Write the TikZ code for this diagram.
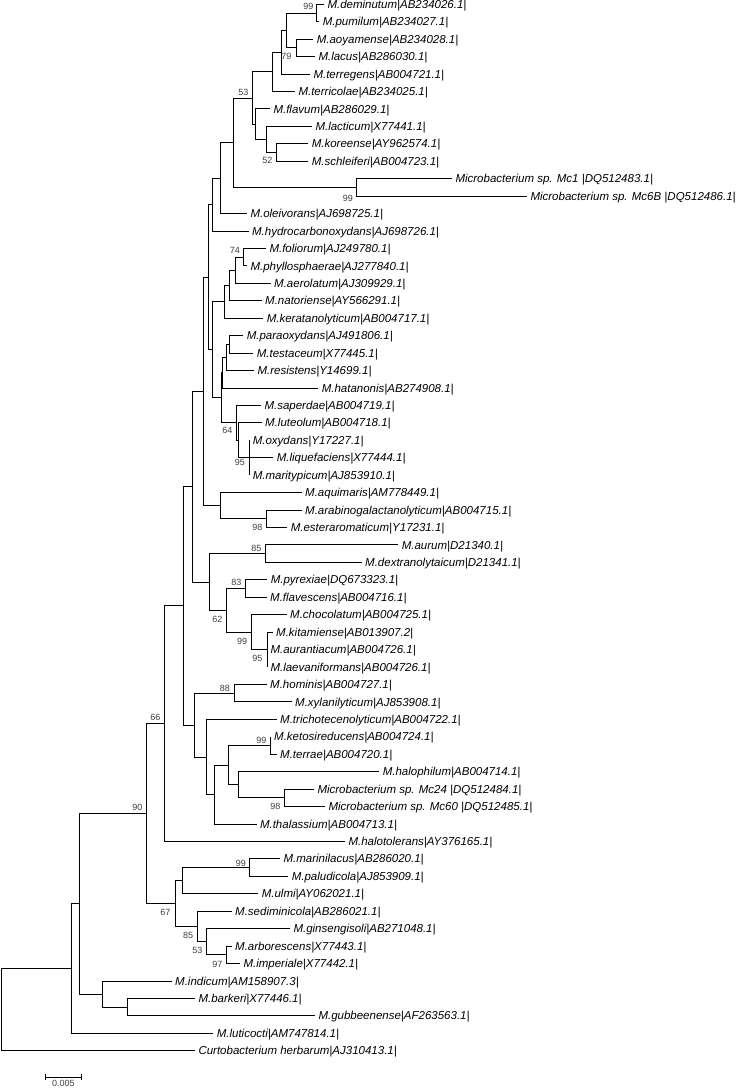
\documentclass[tikz,border=0pt]{standalone}
\usepackage{fontspec}
\setmainfont{Liberation Sans}
\newcommand\lfy[1]{4.3+17.44*(#1-1)}
\begin{document}
\begin{tikzpicture}[x=1pt,y=-1pt,
  branch/.style={draw=black,line width=0.9pt},
  leaflab/.style={anchor=base west,inner sep=0pt,xshift=3.3pt,yshift=-4.1pt,
    font=\fontsize{11.5}{13}\selectfont\itshape},
  bs/.style={anchor=east,inner sep=0pt,font=\fontsize{9}{10}\selectfont,text=black!75}]
\useasboundingbox (0,0) rectangle (740,1088);
\newcommand\myleaf[3]{\coordinate (e#1) at (#2,{\lfy{#1}}); \node[leaflab] (t#1) at (e#1) {#3};}
\newcommand\brn[2]{\draw[branch] (#1) |- (#2);}
% leaves
\myleaf{1}{324}{M.deminutum|AB234026.1|}
\myleaf{2}{319.3}{M.pumilum|AB234027.1|}
\myleaf{3}{313.3}{M.aoyamense|AB234028.1|}
\myleaf{4}{315}{M.lacus|AB286030.1|}
\myleaf{5}{310}{M.terregens|AB004721.1|}
\myleaf{6}{295}{M.terricolae|AB234025.1|}
\myleaf{7}{270}{M.flavum|AB286029.1|}
\myleaf{8}{312}{M.lacticum|X77441.1|}
\myleaf{9}{308.3}{M.koreense|AY962574.1|}
\myleaf{10}{308.3}{M.schleiferi|AB004723.1|}
\myleaf{11}{452}{Microbacterium sp. Mc1 |DQ512483.1|}
\myleaf{12}{527}{Microbacterium sp. Mc6B |DQ512486.1|}
\myleaf{13}{247}{M.oleivorans|AJ698725.1|}
\myleaf{14}{248.6}{M.hydrocarbonoxydans|AJ698726.1|}
\myleaf{15}{266}{M.foliorum|AJ249780.1|}
\myleaf{16}{247}{M.phyllosphaerae|AJ277840.1|}
\myleaf{17}{270.7}{M.aerolatum|AJ309929.1|}
\myleaf{18}{261.7}{M.natoriense|AY566291.1|}
\myleaf{19}{263.3}{M.keratanolyticum|AB004717.1|}
\myleaf{20}{243.3}{M.paraoxydans|AJ491806.1|}
\myleaf{21}{253.3}{M.testaceum|X77445.1|}
\myleaf{22}{254}{M.resistens|Y14699.1|}
\myleaf{23}{318.3}{M.hatanonis|AB274908.1|}
\myleaf{24}{261}{M.saperdae|AB004719.1|}
\myleaf{25}{261.7}{M.luteolum|AB004718.1|}
\myleaf{26}{249.3}{M.oxydans|Y17227.1|}
\myleaf{27}{273.3}{M.liquefaciens|X77444.1|}
\myleaf{28}{249.3}{M.maritypicum|AJ853910.1|}
\myleaf{29}{301.7}{M.aquimaris|AM778449.1|}
\myleaf{30}{301.7}{M.arabinogalactanolyticum|AB004715.1|}
\myleaf{31}{287.3}{M.esteraromaticum|Y17231.1|}
\myleaf{32}{398.3}{M.aurum|D21340.1|}
\myleaf{33}{361.7}{M.dextranolytaicum|D21341.1|}
\myleaf{34}{267.3}{M.pyrexiae|DQ673323.1|}
\myleaf{35}{266.7}{M.flavescens|AB004716.1|}
\myleaf{36}{286.7}{M.chocolatum|AB004725.1|}
\myleaf{37}{272.7}{M.kitamiense|AB013907.2|}
\myleaf{38}{267}{M.aurantiacum|AB004726.1|}
\myleaf{39}{267}{M.laevaniformans|AB004726.1|}
\myleaf{40}{266.7}{M.hominis|AB004727.1|}
\myleaf{41}{291.7}{M.xylanilyticum|AJ853908.1|}
\myleaf{42}{276.7}{M.trichotecenolyticum|AB004722.1|}
\myleaf{43}{270.7}{M.ketosireducens|AB004724.1|}
\myleaf{44}{276.7}{M.terrae|AB004720.1|}
\myleaf{45}{379.3}{M.halophilum|AB004714.1|}
\myleaf{46}{314}{Microbacterium sp. Mc24 |DQ512484.1|}
\myleaf{47}{325}{Microbacterium sp. Mc60 |DQ512485.1|}
\myleaf{48}{256.5}{M.thalassium|AB004713.1|}
\myleaf{49}{345}{M.halotolerans|AY376165.1|}
\myleaf{50}{280}{M.marinilacus|AB286020.1|}
\myleaf{51}{288.3}{M.paludicola|AJ853909.1|}
\myleaf{52}{258.3}{M.ulmi|AY062021.1|}
\myleaf{53}{231.7}{M.sediminicola|AB286021.1|}
\myleaf{54}{290}{M.ginsengisoli|AB271048.1|}
\myleaf{55}{231.7}{M.arborescens|X77443.1|}
\myleaf{56}{240}{M.imperiale|X77442.1|}
\myleaf{57}{171.7}{M.indicum|AM158907.3|}
\myleaf{58}{195}{M.barkeri|X77446.1|}
\myleaf{59}{315}{M.gubbeenense|AF263563.1|}
\myleaf{60}{213.3}{M.luticocti|AM747814.1|}
\myleaf{61}{195}{Curtobacterium herbarum|AJ310413.1|}
% internal nodes
\coordinate (Ndp) at (316.7,{\lfy{1.5}});
\coordinate (Nal) at (296,{\lfy{3.5}});
\coordinate (Ndpal) at (286,{\lfy{2.5}});
\coordinate (Ndpalt) at (281.3,{\lfy{3.75}});
\coordinate (Ndpaltt) at (272,{\lfy{4.875}});
\coordinate (Nks) at (276.7,{\lfy{9.5}});
\coordinate (Nlks) at (266.3,{\lfy{8.75}});
\coordinate (Nflks) at (255.5,{\lfy{7.875}});
\coordinate (N53) at (252,{\lfy{6.375}});
\coordinate (Nmc) at (356.8,{\lfy{11.5}});
\coordinate (Ntop) at (233.5,{\lfy{8.9375}});
\coordinate (Ntop2) at (220,{\lfy{10.96875}});
\coordinate (Ntop3) at (212.5,{\lfy{12.484375}});
\coordinate (Nfp) at (243.3,{\lfy{15.5}});
\coordinate (Nfpa) at (235,{\lfy{16.25}});
\coordinate (Nfpan) at (229,{\lfy{17.125}});
\coordinate (Nfpank) at (224.3,{\lfy{18.0625}});
\coordinate (Npt) at (229.3,{\lfy{20.5}});
\coordinate (Nptr) at (226,{\lfy{21.25}});
\coordinate (Nptrh) at (222.7,{\lfy{22.125}});
\coordinate (Nolm) at (249.3,{\lfy{27}});
\coordinate (Nlo) at (238.2,{\lfy{26}});
\coordinate (Ns) at (236.7,{\lfy{25}});
\coordinate (Nphs) at (221.5,{\lfy{23.5625}});
\coordinate (NB) at (212.3,{\lfy{20.8125}});
\coordinate (NA) at (208.7,{\lfy{16.6484375}});
\coordinate (Nae) at (266.7,{\lfy{30.5}});
\coordinate (Naae) at (220.5,{\lfy{29.75}});
\coordinate (NC) at (203,{\lfy{23.19921875}});
\coordinate (Nad) at (265,{\lfy{32.5}});
\coordinate (Npf) at (245.7,{\lfy{34.5}});
\coordinate (Nkal) at (267,{\lfy{38}});
\coordinate (Nckal) at (251.2,{\lfy{37}});
\coordinate (N62) at (226.5,{\lfy{35.75}});
\coordinate (Nadpf) at (209,{\lfy{34.125}});
\coordinate (ND) at (192.3,{\lfy{28.662109375}});
\coordinate (Nhx) at (234.3,{\lfy{40.5}});
\coordinate (Nkt) at (270.7,{\lfy{43.5}});
\coordinate (NMc) at (284.3,{\lfy{46.5}});
\coordinate (NhMc) at (238.3,{\lfy{45.75}});
\coordinate (NkthMc) at (228.3,{\lfy{44.625}});
\coordinate (Nkth) at (214.8,{\lfy{46.3125}});
\coordinate (Ntri) at (206,{\lfy{44.15625}});
\coordinate (Nhxt) at (194.3,{\lfy{42.328125}});
\coordinate (NE) at (183.3,{\lfy{35.4951171875}});
\coordinate (N66) at (164.3,{\lfy{42.24755859375}});
\coordinate (Nmp) at (249.3,{\lfy{50.5}});
\coordinate (Nmpu) at (182.3,{\lfy{51.25}});
\coordinate (Nai) at (226.7,{\lfy{55.5}});
\coordinate (Ngai) at (206.7,{\lfy{54.75}});
\coordinate (Nsgai) at (197.7,{\lfy{53.875}});
\coordinate (N67) at (175.7,{\lfy{52.5625}});
\coordinate (N90) at (146.7,{\lfy{47.405}});
\coordinate (Nbg) at (127.7,{\lfy{58.5}});
\coordinate (Nibg) at (102.3,{\lfy{57.75}});
\coordinate (NF) at (79.3,{\lfy{52.578}});
\coordinate (NG) at (71.7,{\lfy{56.289}});
\coordinate (Nroot) at (1,{\lfy{58.64}});
% branches
\brn{Ndp}{e1}\brn{Ndp}{e2}
\brn{Nal}{e3}\brn{Nal}{e4}
\brn{Ndpal}{Ndp}\brn{Ndpal}{Nal}
\brn{Ndpalt}{Ndpal}\brn{Ndpalt}{e5}
\brn{Ndpaltt}{Ndpalt}\brn{Ndpaltt}{e6}
\brn{Nks}{e9}\brn{Nks}{e10}
\brn{Nlks}{e8}\brn{Nlks}{Nks}
\brn{Nflks}{e7}\brn{Nflks}{Nlks}
\brn{N53}{Ndpaltt}\brn{N53}{Nflks}
\brn{Nmc}{e11}\brn{Nmc}{e12}
\brn{Ntop}{N53}\brn{Ntop}{Nmc}
\brn{Ntop2}{Ntop}\brn{Ntop2}{e13}
\brn{Ntop3}{Ntop2}\brn{Ntop3}{e14}
\brn{Nfp}{e15}\brn{Nfp}{e16}
\brn{Nfpa}{Nfp}\brn{Nfpa}{e17}
\brn{Nfpan}{Nfpa}\brn{Nfpan}{e18}
\brn{Nfpank}{Nfpan}\brn{Nfpank}{e19}
\brn{Npt}{e20}\brn{Npt}{e21}
\brn{Nptr}{Npt}\brn{Nptr}{e22}
\brn{Nptrh}{Nptr}\brn{Nptrh}{e23}
\brn{Nolm}{e26}\brn{Nolm}{e27}\brn{Nolm}{e28}
\brn{Nlo}{e25}\brn{Nlo}{Nolm}
\brn{Ns}{e24}\brn{Ns}{Nlo}
\brn{Nphs}{Nptrh}\brn{Nphs}{Ns}
\brn{NB}{Nfpank}\brn{NB}{Nphs}
\brn{NA}{Ntop3}\brn{NA}{NB}
\brn{Nae}{e30}\brn{Nae}{e31}
\brn{Naae}{e29}\brn{Naae}{Nae}
\brn{NC}{NA}\brn{NC}{Naae}
\brn{Nad}{e32}\brn{Nad}{e33}
\brn{Npf}{e34}\brn{Npf}{e35}
\brn{Nkal}{e37}\brn{Nkal}{e38}\brn{Nkal}{e39}
\brn{Nckal}{e36}\brn{Nckal}{Nkal}
\brn{N62}{Npf}\brn{N62}{Nckal}
\brn{Nadpf}{Nad}\brn{Nadpf}{N62}
\brn{ND}{NC}\brn{ND}{Nadpf}
\brn{Nhx}{e40}\brn{Nhx}{e41}
\brn{Nkt}{e43}\brn{Nkt}{e44}
\brn{NMc}{e46}\brn{NMc}{e47}
\brn{NhMc}{e45}\brn{NhMc}{NMc}
\brn{NkthMc}{Nkt}\brn{NkthMc}{NhMc}
\brn{Nkth}{NkthMc}\brn{Nkth}{e48}
\brn{Ntri}{e42}\brn{Ntri}{Nkth}
\brn{Nhxt}{Nhx}\brn{Nhxt}{Ntri}
\brn{NE}{ND}\brn{NE}{Nhxt}
\brn{N66}{NE}\brn{N66}{e49}
\brn{Nmp}{e50}\brn{Nmp}{e51}
\brn{Nmpu}{Nmp}\brn{Nmpu}{e52}
\brn{Nai}{e55}\brn{Nai}{e56}
\brn{Ngai}{e54}\brn{Ngai}{Nai}
\brn{Nsgai}{e53}\brn{Nsgai}{Ngai}
\brn{N67}{Nmpu}\brn{N67}{Nsgai}
\brn{N90}{N66}\brn{N90}{N67}
\brn{Nbg}{e58}\brn{Nbg}{e59}
\brn{Nibg}{e57}\brn{Nibg}{Nbg}
\brn{NF}{N90}\brn{NF}{Nibg}
\brn{NG}{NF}\brn{NG}{e60}
\brn{Nroot}{NG}\brn{Nroot}{e61}
% bootstrap values
\node[bs] (b1) at (313.5,6.7) {99};
\node[bs] (b2) at (291.5,56) {79};
\node[bs] (b3) at (248.5,92) {53};
\node[bs] (b4) at (272.5,160) {52};
\node[bs] (b5) at (353.2,198) {99};
\node[bs] (b6) at (240,250.7) {74};
\node[bs] (b7) at (232.7,430) {64};
\node[bs] (b8) at (245,462.5) {95};
\node[bs] (b9) at (262.7,527.3) {98};
\node[bs] (b10) at (261.7,548.3) {85};
\node[bs] (b11) at (241.7,582.7) {83};
\node[bs] (b12) at (222.7,619) {62};
\node[bs] (b13) at (247.3,641) {99};
\node[bs] (b14) at (262.7,658) {95};
\node[bs] (b15) at (230,688.3) {88};
\node[bs] (b16) at (266.7,740) {99};
\node[bs] (b17) at (280.7,806) {98};
\node[bs] (b18) at (160.7,717.7) {66};
\node[bs] (b19) at (142.7,807.7) {90};
\node[bs] (b20) at (246,863.3) {99};
\node[bs] (b21) at (170.7,912.3) {67};
\node[bs] (b22) at (193.3,935) {85};
\node[bs] (b23) at (202.7,950.7) {53};
\node[bs] (b24) at (222.7,964) {97};
% scale bar
\coordinate (sa) at (45,1077.3);
\coordinate (sb) at (81.7,1077.3);
\draw[branch] (sa) -- (sb);
\draw[branch] ([yshift=3pt]sa) -- ([yshift=-3pt]sa);
\draw[branch] ([yshift=3pt]sb) -- ([yshift=-3pt]sb);
\node[bs,anchor=center] (sl) at (63.3,1083.6) {0.005};
\end{tikzpicture}
\end{document}
